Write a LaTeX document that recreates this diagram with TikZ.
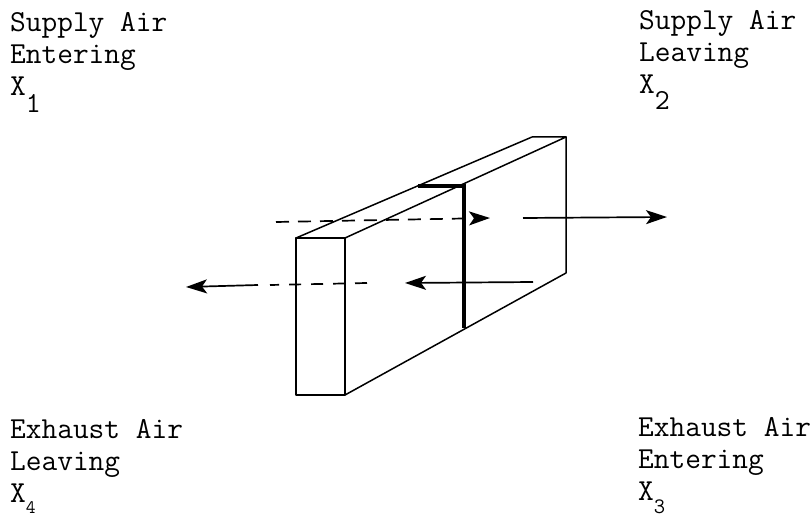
\documentclass[tikz,border=0pt]{standalone}
\usepackage{tikz}
\usetikzlibrary{arrows.meta}

\begin{document}
\begin{tikzpicture}
		[x=1pt,y=-1pt,
		edge/.style={black,line width=1.5pt,line cap=round,line join=round},
		divider/.style={black,line width=3.2pt,line cap=butt},
		flow/.style={black,line width=1.7pt,-{Stealth[length=21pt,width=14pt,inset=5pt]}},
		dashflow/.style={flow,dash pattern=on 13pt off 9pt},
		dashrun/.style={black,line width=1.7pt,dash pattern=on 12pt off 10pt},
		tag/.style={anchor=north west,inner sep=0pt,align=left,font=\ttfamily\fontsize{30.5}{32}\selectfont}
		]

		\useasboundingbox (0,0) rectangle (812,516);

		% Exchanger block
		\def \x {296}
		\def \y {238}
		\def \sx {49}
		\def \sy {157}
		\draw[edge] (\x,\y) rectangle (\x+\sx,\y+\sy);
		\draw[edge] (\x,\y) -- (532,137) -- (566,137) -- (\x+\sx,\y);
		\draw[edge] (566,137) -- (566,273) -- (\x+\sx,\y+\sy);

		% Divider
		\draw[divider] (418,186) -- (464,186) -- (464,328);

		% Supply air
		\coordinate (supplyin) at (276,222);
		\coordinate (supplymid) at (490,218);
		\coordinate (supplystart) at (523,218);
		\coordinate (supplyout) at (667,217);
		\draw[dashflow] (supplyin) -- (supplymid);
		\draw[flow] (supplystart) -- (supplyout);

		% Exhaust air
		\coordinate (exhauststart) at (533,282);
		\coordinate (exhaustmid) at (405,283);
		\coordinate (exhaustdash) at (367,283);
		\coordinate (exhaustbreak) at (270,285);
		\coordinate (exhaustsolid) at (258,285);
		\coordinate (exhaustout) at (186,287);
		\draw[flow] (exhauststart) -- (exhaustmid);
		\draw[dashrun] (exhaustdash) -- (exhaustbreak);
		\draw[flow] (exhaustsolid) -- (exhaustout);

		% Labels
		\node[tag] (supplyentering) at (10,12.5) {Supply Air\\Entering\\X\raisebox{-17pt}{\fontsize{29}{29}\selectfont 1}};
		\node[tag] (supplyleaving) at (639,10.5) {Supply Air\\Leaving\\X\raisebox{-16pt}{\fontsize{29}{29}\selectfont 2}};
		\node[tag] (exhaustleaving) at (10,419.5) {Exhaust Air\\Leaving\\X\raisebox{-11pt}{\fontsize{19}{19}\selectfont 4}};
		\node[tag] (exhaustentering) at (638,417) {Exhaust Air\\Entering\\X\raisebox{-13pt}{\fontsize{22}{22}\selectfont 3}};
\end{tikzpicture}
\end{document}
